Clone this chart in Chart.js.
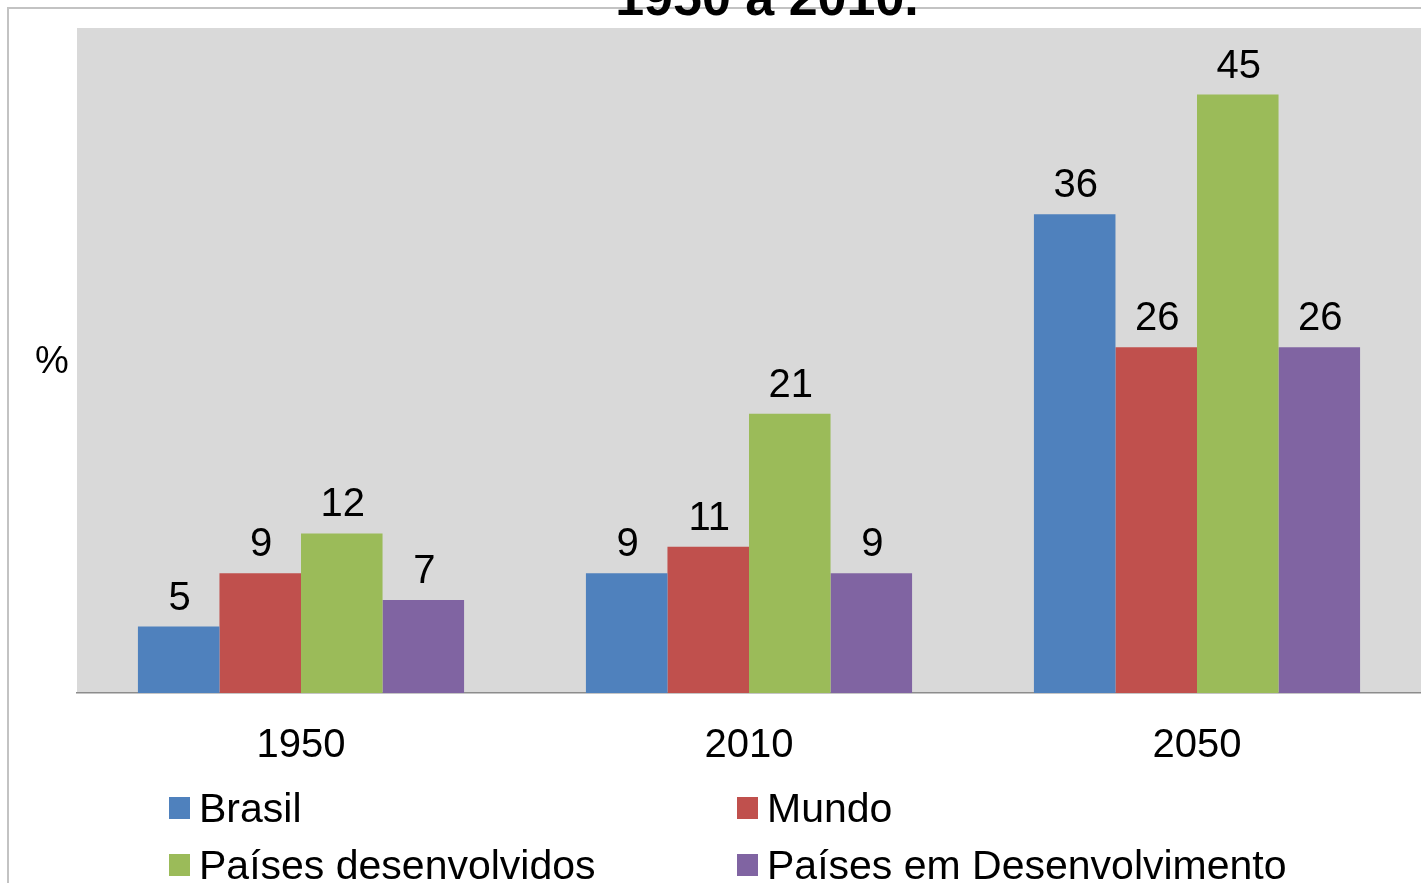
<!DOCTYPE html>
<html>
<head>
<meta charset="utf-8">
<script src="https://cdn.jsdelivr.net/npm/chart.js@4/dist/chart.umd.min.js"></script>
<style>
  html, body { margin: 0; padding: 0; background: #fff; overflow: hidden; }
  #wrap { position: relative; width: 1421px; height: 883px; }
  #frame { position: absolute; left: 7px; top: 7px; width: 1500px; height: 1000px;
           border-left: 2px solid #c3c3c3; border-top: 2px solid #c3c3c3; }
  #chartBox { position: absolute; left: 0; top: 0; width: 1421px; height: 883px; }
  #yTitle { position: absolute; left: 35px; top: 339px; font: 38px "Liberation Sans", Arial, sans-serif; color: #000; }
  .leg { position: absolute; font: 41px "Liberation Sans", Arial, sans-serif; color: #000; white-space: nowrap; line-height: 1; }
  .leg span.box { position: absolute; left: 0; top: 9px; width: 21px; height: 22px; }
  .leg span.txt { position: absolute; left: 30px; top: 0; }
</style>
</head>
<body>
<div id="wrap">
  <div id="frame"></div>
  <div id="chartBox"><canvas id="myChart"></canvas></div>
  <div id="yTitle">%</div>
  <div id="legend"></div>
</div>
<script>
const categories = ['1950', '2010', '2050']
const brasil = [5, 9, 36]
const mundo = [9, 11, 26]
const desenvolvidos = [12, 21, 45]
const emDesenvolvimento = [7, 9, 26]
const seriesNames = ['Brasil', 'Mundo', 'Países desenvolvidos', 'Países em Desenvolvimento']
const seriesColors = ['#4f81bd', '#c0504d', '#9bbb59', '#8064a2']
const titleText = '1950 a 2010.'

const font = '"Liberation Sans", Arial, sans-serif'

// gray plot background
const plotBg = {
    id: 'plotBg',
    beforeDraw(chart) {
        const { ctx, chartArea } = chart
        ctx.save()
        ctx.fillStyle = '#d9d9d9'
        ctx.fillRect(chartArea.left, chartArea.top, chartArea.right - chartArea.left, chartArea.bottom - chartArea.top)
        ctx.restore()
    }
}

// value labels above the bars + cut-off title
const valueLabels = {
    id: 'valueLabels',
    afterDatasetsDraw(chart) {
        const ctx = chart.ctx
        ctx.save()
        ctx.fillStyle = '#000'
        ctx.font = '40px ' + font
        ctx.textAlign = 'center'
        ctx.textBaseline = 'alphabetic'
        chart.data.datasets.forEach((ds, i) => {
            chart.getDatasetMeta(i).data.forEach((bar, j) => {
                ctx.fillText(String(ds.data[j]), bar.x + 1, bar.y - 17)
            })
        })
        ctx.font = 'bold 52px ' + font
        ctx.fillText(titleText, 767, 15)
        ctx.restore()
    }
}

const ctx = document.getElementById('myChart').getContext('2d')
const myChart = new Chart(ctx, {
    type: 'bar',
    data: {
        labels: categories,
        datasets: [brasil, mundo, desenvolvidos, emDesenvolvimento].map((d, i) => ({
            label: seriesNames[i],
            data: d,
            backgroundColor: seriesColors[i],
            borderWidth: 0,
            barPercentage: 1,
            categoryPercentage: 0.728
        }))
    },
    options: {
        responsive: true,
        maintainAspectRatio: false,
        animation: false,
        layout: { padding: { left: 77, top: 28, right: -2, bottom: 0 } },
        plugins: {
            legend: { display: false },
            tooltip: { enabled: false }
        },
        scales: {
            x: {
                grid: { display: false, drawTicks: false },
                border: { display: true, color: '#8c8c8c', width: 1.5 },
                ticks: { color: '#000', font: { family: font, size: 40 }, padding: 29 },
                afterFit(scale) { scale.height = 190 }
            },
            y: {
                display: false,
                min: 0,
                max: 50
            }
        }
    },
    plugins: [plotBg, valueLabels]
})

// legend in two columns
const legendPos = [[169, 788], [737, 788], [169, 845], [737, 845]]
const legendEl = document.getElementById('legend')
myChart.data.datasets.forEach((ds, i) => {
    const d = document.createElement('div')
    d.className = 'leg'
    d.style.left = legendPos[i][0] + 'px'
    d.style.top = legendPos[i][1] + 'px'
    d.innerHTML = '<span class="box" style="background:' + ds.backgroundColor + '"></span><span class="txt">' + ds.label + '</span>'
    legendEl.appendChild(d)
})
</script>
</body>
</html>
